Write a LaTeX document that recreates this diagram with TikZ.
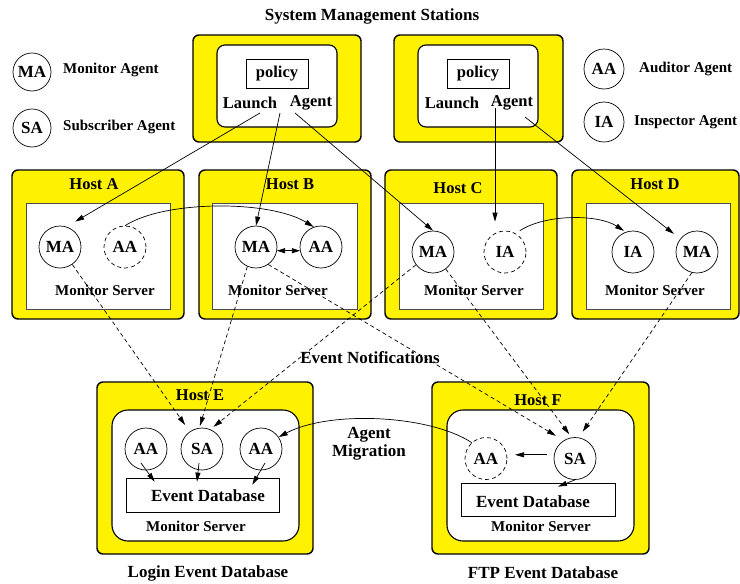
\documentclass[tikz,border=0pt]{standalone}
\usepackage{fontspec}
\setmainfont{Liberation Serif}
\usetikzlibrary{arrows.meta,calc}
\begin{document}
\begin{tikzpicture}[x=1pt,y=-1pt,
  yel/.style={draw=black, line width=1.4pt, fill=yellow, rounded corners=6pt, inner sep=0pt},
  wbox/.style={draw=black, line width=1.1pt, fill=white, rounded corners=#1, inner sep=0pt},
  hinner/.style={draw=black!70, line width=0.8pt, fill=white, inner sep=0pt},
  plain/.style={draw=black, line width=0.7pt, fill=white, inner sep=0pt},
  ag/.style={circle, draw=black, line width=0.7pt, minimum size=42pt, inner sep=0pt, font=\bfseries\fontsize{17}{19}\selectfont},
  agd/.style={ag, dash pattern=on 4pt off 3pt},
  lag/.style={ag, minimum size=38pt},
  lagr/.style={ag, minimum size=40pt},
  big/.style={inner sep=0pt, font=\bfseries\fontsize{17}{20}\selectfont},
  mid/.style={inner sep=0pt, font=\bfseries\fontsize{16.5}{19}\selectfont},
  sml/.style={inner sep=0pt, font=\bfseries\fontsize{15}{18}\selectfont},
  arr/.style={line width=0.7pt, -{Triangle[length=9pt,width=5pt]}},
  darr/.style={arr, dash pattern=on 4pt off 3pt},
  biarr/.style={line width=0.7pt, {Triangle[length=8pt,width=5pt]}-{Triangle[length=8pt,width=5pt]}}
]
\useasboundingbox (0,0) rectangle (740,584);

% title
\node[big] (title) at (372,16) {System Management Stations};

% legend
\node[lag] (L-MA) at (32,72) {MA};
\node[sml, anchor=west] (L-MAt) at (63,70) {Monitor Agent};
\node[lag] (L-SA) at (32,128) {SA};
\node[sml, anchor=west] (L-SAt) at (63,127) {Subscriber Agent};
\node[lagr] (L-AA) at (604,69) {AA};
\node[sml, anchor=west] (L-AAt) at (639,69) {Auditor Agent};
\node[lagr] (L-IA) at (604,122) {IA};
\node[sml, anchor=west] (L-IAt) at (634,122) {Inspector Agent};

% stations
\node[yel, minimum width=168pt, minimum height=107pt] (st1) at (277,88.5) {};
\node[wbox=8pt, minimum width=120pt, minimum height=82pt] (st1i) at (277,86) {};
\node[plain, minimum width=62pt, minimum height=29pt, font=\bfseries\fontsize{16.5}{19}\selectfont] (pol1) at (277,73.5) {policy};
\node[mid] (launch1) at (250,103) {Launch};
\node[mid] (agent1) at (311,103) {Agent};

\node[yel, minimum width=169pt, minimum height=107pt] (st2) at (478.5,88.5) {};
\node[wbox=8pt, minimum width=120pt, minimum height=82pt] (st2i) at (478,86) {};
\node[plain, minimum width=62pt, minimum height=29pt, font=\bfseries\fontsize{16.5}{19}\selectfont] (pol2) at (478,73.5) {policy};
\node[mid] (launch2) at (452,103) {Launch};
\node[mid] (agent2) at (512,103) {Agent};

% hosts A-D
\node[yel, minimum width=172pt, minimum height=149pt] (hA) at (98,244.5) {};
\node[hinner, minimum width=144pt, minimum height=106pt] (hAi) at (98,256) {};
\node[mid] (hAt) at (94,184) {Host A};
\node[ag] (A-MA) at (60,247) {MA};
\node[agd] (A-AA) at (125,247) {AA};
\node[sml] (hAm) at (105,290) {Monitor Server};

\node[yel, minimum width=172pt, minimum height=149pt] (hB) at (285,244.5) {};
\node[hinner, minimum width=145pt, minimum height=106pt] (hBi) at (284.5,256) {};
\node[mid] (hBt) at (290,184) {Host B};
\node[ag] (B-MA) at (256,247) {MA};
\node[ag] (B-AA) at (321,247) {AA};
\node[sml] (hBm) at (278,290) {Monitor Server};

\node[yel, minimum width=172pt, minimum height=149pt] (hC) at (471,244.5) {};
\node[hinner, minimum width=144pt, minimum height=106pt] (hCi) at (471,256) {};
\node[mid] (hCt) at (458,188) {Host C};
\node[ag] (C-MA) at (433,252) {MA};
\node[agd] (C-IA) at (505,252) {IA};
\node[sml] (hCm) at (474,290) {Monitor Server};

\node[yel, minimum width=167pt, minimum height=149pt] (hD) at (655.5,244.5) {};
\node[hinner, minimum width=144pt, minimum height=106pt] (hDi) at (658,256) {};
\node[mid] (hDt) at (655,184) {Host D};
\node[ag] (D-IA) at (633,252) {IA};
\node[ag] (D-MA) at (697,252) {MA};
\node[sml] (hDm) at (655,290) {Monitor Server};

% host E
\node[yel, minimum width=216pt, minimum height=172pt] (hE) at (205,468) {};
\node[wbox=16pt, minimum width=187pt, minimum height=131pt] (hEi) at (205.5,475.5) {};
\node[mid] (hEt) at (200,395) {Host E};
\node[ag] (E-AA1) at (146,449) {AA};
\node[ag] (E-SA) at (202,449) {SA};
\node[ag] (E-AA2) at (261,449) {AA};
\node[plain, minimum width=153pt, minimum height=34pt] (E-DB) at (202.5,495) {};
\node[big] (E-DBt) at (208,496) {Event Database};
\node[sml] (hEm) at (196,526) {Monitor Server};
\node[big] (hEl) at (208,573) {Login Event Database};

% host F
\node[yel, minimum width=217pt, minimum height=172pt] (hF) at (540.5,468) {};
\node[wbox=16pt, minimum width=187pt, minimum height=131pt] (hFi) at (540.5,475.5) {};
\node[mid] (hFt) at (538,400) {Host F};
\node[agd] (F-AA) at (486,458.5) {AA};
\node[ag] (F-SA) at (575,458.5) {SA};
\node[plain, minimum width=154pt, minimum height=33pt] (F-DB) at (538,499.5) {};
\node[big] (F-DBt) at (533,502) {Event Database};
\node[sml] (hFm) at (541,526) {Monitor Server};
\node[big] (hFl) at (543,573) {FTP Event Database};

% free labels
\node[big] (evn) at (370,358) {Event Notifications};
\node[big, align=center, font=\bfseries\fontsize{17}{18}\selectfont] (mig) at (369,444) {Agent\\Migration};

% launch connectors
\coordinate (s1L) at (260,113);
\coordinate (s1A1) at (280,113);
\coordinate (s1A2) at (295,113);
\coordinate (s2A1) at (495,108);
\coordinate (s2A2) at (525,117);
\draw[arr, shorten >=10pt] (s1L) -- (A-MA.72);
\draw[arr] (s1A1) -- (B-MA.north);
\draw[arr] (s1A2) -- (C-MA.north);
\draw[arr, shorten >=9pt] (s2A1) -- (s2A1 |- C-IA.north);
\draw[arr, shorten >=8pt] (s2A2) -- (D-MA);

% agent moves
\draw[arr] (A-AA.north) .. controls (165,200) and (270,200) .. (B-AA.110);
\draw[biarr] (B-MA.-10) -- (B-AA.190);
\draw[arr, shorten <=5pt, shorten >=2pt] (C-IA.60) .. controls (545,214) and (598,214) .. (D-IA.110);

% event notifications
\draw[darr, shorten >=8pt] (A-MA) -- (E-SA);
\draw[darr, shorten >=2pt] (B-MA.246) -- (E-SA.97);
\draw[darr, shorten >=4pt] (C-MA.217) -- (E-SA.67);
\draw[darr, shorten >=9pt] (B-MA.-55) -- (F-SA.122);
\draw[darr, shorten >=4pt] (C-MA) -- (F-SA.99);
\draw[darr, shorten >=7pt] (D-MA.256) -- (F-SA.80);

% host E inner
\draw[arr] ($(E-AA1)+(-5,14)$) -- ($(E-DB.north west)+(29,4)$);
\draw[arr] ($(E-SA)+(-3,14)$) -- ($(E-DB.north)+(-5.5,4)$);
\draw[arr] ($(E-AA2)+(4,14)$) -- ($(E-DB.north east)+(-27,7)$);

% host F inner
\draw[arr, shorten <=7pt, shorten >=8pt] (F-SA.170) -- (F-AA.10);
\draw[arr] (F-SA.south) -- ($(F-DB.north)+(20,4)$);

% migration
\draw[arr] (F-AA.132) .. controls (430,415) and (330,410) .. (E-AA2.34);
\end{tikzpicture}
\end{document}
